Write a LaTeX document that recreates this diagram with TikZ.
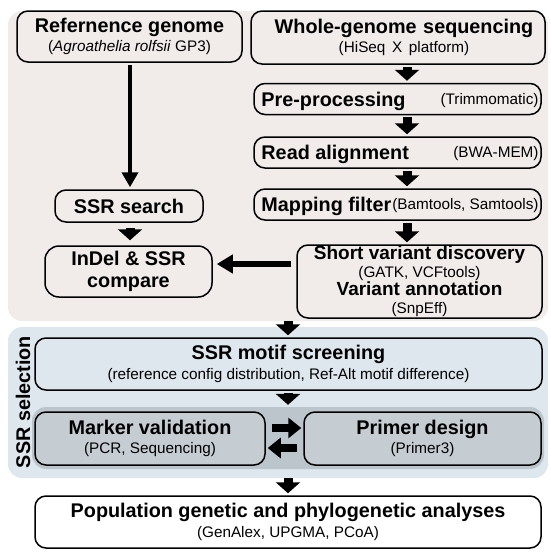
\documentclass[tikz,border=0pt]{standalone}
\usepackage{fontspec}
\setmainfont{Liberation Sans}
\usetikzlibrary{arrows.meta}
\definecolor{panelpink}{HTML}{F1EBEA}
\definecolor{panelblue}{HTML}{DDE7ED}
\definecolor{panelgray}{HTML}{BCC5CB}
\definecolor{boxgray}{HTML}{C6CDD2}
\newcommand{\ttlfont}{\fontsize{19.8}{21.5}\selectfont\bfseries}
\newcommand{\subfont}{\fontsize{15.3}{17}\selectfont\mdseries}
\tikzset{
  panel/.style={rectangle, rounded corners=14pt, fill=#1, draw=none, inner sep=0pt},
  stepbox/.style={rectangle, rounded corners=11pt, draw=black, line width=1.5pt, fill=#1,
                  align=center, inner sep=2pt, font=\ttlfont},
  stepbox/.default=none,
  steptitle/.style={font=\ttlfont, inner sep=0pt, anchor=base west},
  steptool/.style={font=\subfont, inner sep=0pt, anchor=base east},
  blockdown/.style={line width=9pt, -{Triangle[width=24pt,length=11pt]}, shorten <=2pt, shorten >=2pt},
  longdown/.style={line width=4pt, -{Triangle[width=16pt,length=15pt]}, shorten <=2pt, shorten >=2pt},
  crossarrow/.style={line width=6pt, -{Triangle[width=18pt,length=16pt]}, shorten <=5pt, shorten >=4pt},
  blockside/.style={line width=8pt, -{Triangle[width=20pt,length=13pt]}, shorten <=6pt, shorten >=2pt},
}

\begin{document}
\begin{tikzpicture}[x=1pt, y=-1pt]
  \useasboundingbox (0,0) rectangle (550,555);
  % background panels
  \node[panel=panelpink, minimum width=540pt, minimum height=310pt] (toppanel) at (278,166) {};
  \node[panel=panelblue, minimum width=540pt, minimum height=151pt] (selpanel) at (278,402.5) {};
  \node[panel=panelgray, minimum width=512pt, minimum height=62pt] (pairpanel) at (288,438) {};
  \node[rotate=90, font=\ttlfont] (sellabel) at (23,402) {SSR selection};

  % left column
  \node[stepbox, minimum width=225pt, minimum height=51pt] (ref) at (129.5,36.5)
    {Refernence genome\\[-2pt]{\subfont(\textit{Agroathelia rolfsii} GP3)}};
  \node[stepbox, minimum width=148pt, minimum height=32pt] (ssr) at (129,206) {SSR search};
  \node[stepbox, rounded corners=14pt, minimum width=167pt, minimum height=51pt] (indel) at (128.5,271.5)
    {InDel \& SSR\\[0pt]compare};

  % right column
  \node[stepbox, minimum width=290pt, minimum height=53pt, text width=290pt] (wgs) at (398,37.5)
    {\hspace*{12pt}Whole-genome sequencing\\[-2pt]\hspace*{12pt}{\subfont(HiSeq X platform)}};
  \foreach \n/\yc/\ttl/\tool in {pre/99/Pre-processing/(Trimmomatic),
                                 aln/152.5/Read alignment/(BWA-MEM),
                                 flt/204.5/Mapping filter/{(Bamtools, Samtools)}}{
    \node[stepbox, minimum width=287pt, minimum height=31pt] (\n) at (397.5,\yc) {};
    \node[steptitle] (\n-t) at ([xshift=8pt, yshift=-7pt]\n.west) {\ttl};
    \node[steptool] (\n-s) at ([xshift=-3pt, yshift=-5pt]\n.east) {\tool};
  }
  \node[stepbox, minimum width=245pt, minimum height=73pt, inner sep=0pt,
        font=\fontsize{19}{21}\selectfont\bfseries] (svd) at (419.5,281.5)
    {Short variant discovery\\[-3pt]{\subfont(GATK, VCFtools)}\\[-3pt]Variant annotation\\[-3pt]{\subfont(SnpEff)}};

  % SSR selection
  \node[stepbox, minimum width=507pt, minimum height=52pt] (motif) at (288.5,364)
    {SSR motif screening\\[-2pt]{\subfont(reference config distribution, Ref-Alt motif difference)}};
  \node[stepbox=boxgray, minimum width=230pt, minimum height=53pt] (marker) at (150,438.5)
    {Marker validation\\[-2pt]{\subfont(PCR, Sequencing)}};
  \node[stepbox=boxgray, minimum width=237pt, minimum height=53pt] (primer) at (422.5,438.5)
    {Primer design\\[-2pt]{\subfont(Primer3)}};

  % analyses
  \node[stepbox=white, minimum width=506pt, minimum height=52pt] (final) at (288,522)
    {Population genetic and phylogenetic analyses\\[-2pt]{\subfont(GenAlex, UPGMA, PCoA)}};

  % connectors
  \coordinate (lcol) at (130,0);
  \coordinate (rcol) at (407,0);
  \coordinate (mcol) at (288,0);
  \coordinate (crossrow) at (0,264);
  \coordinate (fwdrow) at (0,428);
  \coordinate (backrow) at (0,448);
  \draw[longdown] (ref.south -| lcol) -- (ssr.north -| lcol);
  \draw[blockdown, shorten <=5pt, shorten >=5pt] (ssr.south -| lcol) -- (indel.north -| lcol);
  \foreach \a/\b in {wgs/pre, pre/aln, aln/flt, flt/svd}
    \draw[blockdown] (\a.south -| rcol) -- (\b.north -| rcol);
  \draw[crossarrow] (svd.west |- crossrow) -- (indel.east |- crossrow);
  \draw[blockdown, shorten <=0pt] (toppanel.south -| mcol) -- (motif.north -| mcol);
  \draw[blockdown] (motif.south -| mcol) -- (pairpanel.north -| mcol);
  \draw[blockside] (marker.east |- fwdrow) -- (primer.west |- fwdrow);
  \draw[blockside] (primer.west |- backrow) -- (marker.east |- backrow);
  \draw[blockdown, shorten <=0pt] (selpanel.south -| mcol) -- (final.north -| mcol);
\end{tikzpicture}
\end{document}
